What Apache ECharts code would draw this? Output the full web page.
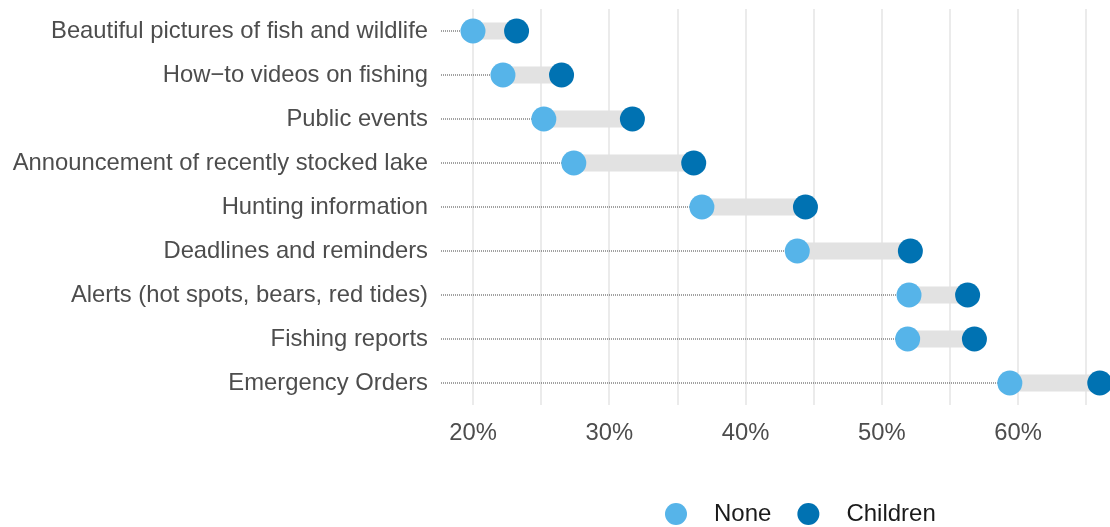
<!DOCTYPE html>
<html><head><meta charset="utf-8">
<script src="https://cdn.jsdelivr.net/npm/echarts@6/dist/echarts.min.js"></script>
<style>html,body{margin:0;padding:0;background:#fff}#c{width:1110px;height:527px}</style>
</head><body><div id="c"></div>
<script>
const categories = [
  "Beautiful pictures of fish and wildlife",
  "How\u2212to videos on fishing",
  "Public events",
  "Announcement of recently stocked lake",
  "Hunting information",
  "Deadlines and reminders",
  "Alerts (hot spots, bears, red tides)",
  "Fishing reports",
  "Emergency Orders"
];
const noneValues =     [20.0, 22.2, 25.2, 27.4, 36.8, 43.8, 52.0, 51.9, 59.4];
const childrenValues = [23.2, 26.5, 31.7, 36.2, 44.4, 52.1, 56.3, 56.8, 66.0];
const seriesNames = ["None", "Children"];
const axisMin = 17.58, axisMax = 66.75;

const chart = echarts.init(document.getElementById('c'), null, {renderer: 'canvas'});
const FONT = 'Liberation Sans, Arial, sans-serif';
const customData = categories.map((c, i) => [noneValues[i], childrenValues[i], i]);

chart.setOption({
  animation: false,
  grid: {left: 440, right: 0, top: 9, height: 396},
  legend: {
    data: seriesNames,
    top: 502, left: 665, padding: 0,
    icon: 'circle', itemWidth: 22, itemHeight: 22, itemGap: 26,
    textStyle: {fontFamily: FONT, fontSize: 24, color: '#1a1a1a', padding: [0, 0, 0, 22]}
  },
  xAxis: {
    type: 'value', min: axisMin, max: axisMax, splitNumber: 10,
    axisLine: {show: false}, axisTick: {show: false},
    splitLine: {show: true, showMinLine: false, showMaxLine: false, lineStyle: {color: '#ebebeb', width: 2}},
    axisLabel: {
      showMinLabel: false, showMaxLabel: false,
      fontFamily: FONT, fontSize: 23.8, color: '#4d4d4d', margin: 16,
      formatter: v => (Math.abs(v % 10) < 1e-6 ? v + '%' : '')
    }
  },
  yAxis: {
    type: 'category', data: categories, inverse: true,
    axisLine: {show: false}, axisTick: {show: false}, splitLine: {show: false},
    axisLabel: {fontFamily: FONT, fontSize: 23.8, color: '#4d4d4d', margin: 12, padding: [2, 0, 0, 0]}
  },
  series: [
    {
      type: 'custom', silent: true, z: 1,
      data: customData,
      encode: {x: [0, 1], y: 2},
      renderItem: function (params, api) {
        const idx = api.value(2);
        const pStart = api.coord([axisMin, idx]);
        const pNone = api.coord([api.value(0), idx]);
        const pChild = api.coord([api.value(1), idx]);
        const h = 17;
        return {
          type: 'group',
          children: [
            {type: 'line', shape: {x1: pStart[0] + 1, y1: pNone[1], x2: pNone[0], y2: pNone[1]},
             style: {stroke: '#444', lineWidth: 1, lineDash: [1, 1]}},
            {type: 'rect', shape: {x: pNone[0], y: pNone[1] - h / 2, width: pChild[0] - pNone[0], height: h},
             style: {fill: '#e2e2e2'}}
          ]
        };
      }
    },
    {
      name: seriesNames[0], type: 'scatter', z: 3, symbolSize: 25,
      itemStyle: {color: '#56b4e9', opacity: 1},
      data: noneValues.map((v, i) => [v, i])
    },
    {
      name: seriesNames[1], type: 'scatter', z: 3, symbolSize: 25,
      itemStyle: {color: '#0072b2', opacity: 1},
      data: childrenValues.map((v, i) => [v, i])
    }
  ]
});
</script></body></html>
